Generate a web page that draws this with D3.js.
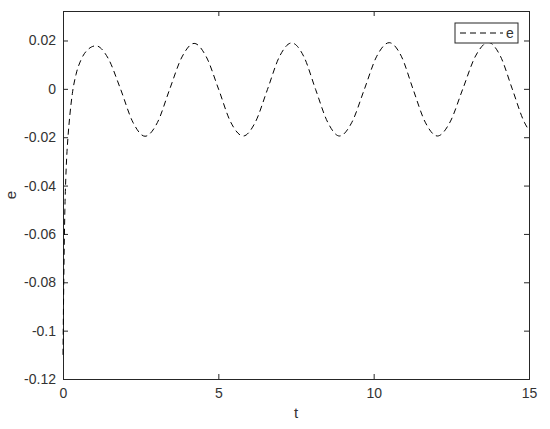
<!DOCTYPE html>
<html>
<head>
<meta charset="utf-8">
<script src="https://cdn.jsdelivr.net/npm/d3@7"></script>
<style>
  body { margin: 0; background: white; }
  svg { display: block; }
  text { font-family: "Liberation Sans", Arial, sans-serif; }
</style>
</head>
<body>
<div id="viz-container"></div>
<script>
let w = 550;
let h = 429;

// values
let tVals = [0, 0.02, 0.04, 0.06, 0.09, 0.12, 0.16, 0.22, 0.3, 0.42, 0.58, 0.78, 1.06,
  1.45, 1.85, 2.25, 2.64, 3.04, 3.43, 3.83, 4.22, 4.61, 5.01, 5.40, 5.80,
  6.19, 6.58, 6.97, 7.36, 7.75, 8.13, 8.52, 8.90, 9.30, 9.70, 10.10, 10.50,
  10.89, 11.27, 11.66, 12.05, 12.46, 12.87, 13.28, 13.69, 14.08, 14.46, 14.85, 15];
let eVals = [-0.11, -0.085, -0.065, -0.05, -0.037, -0.028, -0.02, -0.011, -0.002, 0.006, 0.0120, 0.0160, 0.0178,
  0.0127, 0.0, -0.0138, -0.0196, -0.0139, -0.0003, 0.0132, 0.0188, 0.0133, -0.0002, -0.0138, -0.0195,
  -0.0138, -0.0003, 0.0134, 0.0190, 0.0134, -0.0002, -0.0138, -0.0195, -0.0138, -0.0002, 0.0135, 0.0191,
  0.0135, -0.0002, -0.0138, -0.0195, -0.0137, 0.0, 0.0136, 0.0192, 0.0135, 0.0, -0.0138, -0.0172];

let xTicks = [0, 5, 10, 15];
let yTicks = [0.02, 0, -0.02, -0.04, -0.06, -0.08, -0.1, -0.12];

let mLeft = 63, mRight = 529, mTop = 11, mBottom = 379;

let viz = d3.select("#viz-container")
  .append("svg")
    .attr("width", w)
    .attr("height", h)
    .style("background-color", "white");

let x = d3.scaleLinear().domain([0, 15]).range([mLeft, mRight]);
let y = d3.scaleLinear().domain([-0.12, 0.0322]).range([mBottom, mTop]);

let axisColor = "#262626";

// bottom + top axes
viz.append("g")
  .attr("transform", "translate(0," + mBottom + ")")
  .call(d3.axisBottom(x).tickValues(xTicks).tickSize(-5).tickPadding(9).tickFormat(d3.format("")));
viz.append("g")
  .attr("transform", "translate(0," + mTop + ")")
  .call(d3.axisTop(x).tickValues(xTicks).tickSize(-5).tickFormat(""));

// left + right axes
viz.append("g")
  .attr("transform", "translate(" + mLeft + ",0)")
  .call(d3.axisLeft(y).tickValues(yTicks).tickSize(-5).tickPadding(7).tickFormat(d => d === 0 ? "0" : String(+d.toFixed(2))));
viz.append("g")
  .attr("transform", "translate(" + mRight + ",0)")
  .call(d3.axisRight(y).tickValues(yTicks).tickSize(-5).tickFormat(""));

viz.selectAll(".domain").attr("stroke", axisColor).attr("stroke-width", 1);
viz.selectAll(".tick line").attr("stroke", axisColor);
viz.selectAll(".tick text")
  .attr("fill", "#333")
  .style("font-size", "14px")
  .style("font-family", "Liberation Sans, Arial, sans-serif");

// the curve
let pts = tVals.map((t, i) => ({t: t, e: eVals[i]}));
let line = d3.line()
  .x(d => x(d.t))
  .y(d => y(d.e))
  .curve(d3.curveMonotoneX);

viz.append("path")
  .datum(pts)
  .attr("d", line)
  .attr("fill", "none")
  .attr("stroke", "black")
  .attr("stroke-width", 1)
  .attr("stroke-dasharray", "6,4");

// axis labels
viz.append("text")
  .attr("x", (mLeft + mRight) / 2)
  .attr("y", 418)
  .attr("text-anchor", "middle")
  .attr("fill", "#333")
  .style("font-size", "15px")
  .text("t");

viz.append("text")
  .attr("transform", "translate(16," + ((mTop + mBottom) / 2) + ") rotate(-90)")
  .attr("text-anchor", "middle")
  .attr("fill", "#333")
  .style("font-size", "15px")
  .text("e");

// legend
let legend = viz.append("g").attr("transform", "translate(455,23)");
legend.append("rect")
  .attr("width", 63)
  .attr("height", 20)
  .attr("fill", "white")
  .attr("stroke", axisColor)
  .attr("stroke-width", 1);
legend.append("line")
  .attr("x1", 5).attr("x2", 48)
  .attr("y1", 10).attr("y2", 10)
  .attr("stroke", "black")
  .attr("stroke-dasharray", "6,4");
legend.append("text")
  .attr("x", 51)
  .attr("y", 15)
  .attr("fill", "#333")
  .style("font-size", "14px")
  .text("e");
</script>
</body>
</html>
